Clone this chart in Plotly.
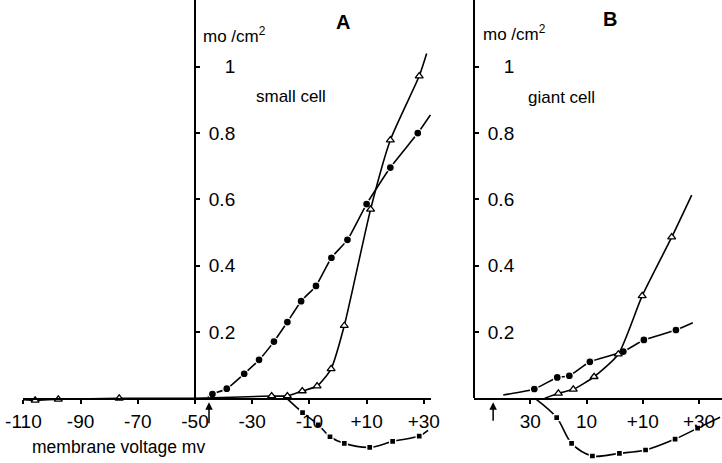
import plotly.graph_objects as go

# ---------------- data ----------------
# Panel A - small cell (membrane voltage mV, conductance mho/cm2)
A_circ_v = [-43.9, -38.9, -32.8, -27.6, -22.4, -17.7, -12.9, -7.7, -2.3, 3.3, 10.0, 18.3, 27.9]
A_circ_g = [0.013, 0.029, 0.074, 0.116, 0.171, 0.230, 0.293, 0.339, 0.424, 0.478, 0.586, 0.696, 0.800]
A_circ_line_v = [-45.5, -43.9, -38.9, -32.8, -27.6, -22.4, -17.7, -12.9, -7.7, -2.3, 3.3, 10.0, 18.3, 27.9, 32.3]
A_circ_line_g = [0.005, 0.013, 0.029, 0.074, 0.116, 0.171, 0.230, 0.293, 0.339, 0.424, 0.478, 0.586, 0.696, 0.800, 0.855]

A_tri_v = [-105.9, -97.8, -76.5, -23.2, -17.7, -12.5, -7.3, -2.4, 2.2, 11.4, 18.3, 28.4]
A_tri_g = [-0.006, -0.003, 0.0, 0.007, 0.007, 0.022, 0.037, 0.089, 0.219, 0.570, 0.779, 0.972]
A_tri_line_v = [-110.0, -105.9, -97.8, -76.5, -50.0, -23.2, -17.7, -12.5, -7.3, -2.4, 2.2, 11.4, 18.3, 28.4, 31.0]
A_tri_line_g = [-0.004, -0.006, -0.003, 0.0, 0.0, 0.007, 0.007, 0.022, 0.037, 0.089, 0.219, 0.570, 0.779, 0.972, 1.040]

A_sq_v = [-12.4, -6.9, -2.8, 2.2, 11.1, 19.1, 28.4]
A_sq_g = [-0.043, -0.080, -0.116, -0.136, -0.148, -0.130, -0.114]
A_sq_line_v = [-17.9, -12.4, -6.9, -2.8, 2.2, 11.1, 19.1, 28.4, 31.5]
A_sq_line_g = [0.0, -0.043, -0.080, -0.116, -0.136, -0.148, -0.130, -0.114, -0.097]

# Panel B - giant cell
B_circ_v = [-28.55, -20.4, -16.1, -8.8, 3.1, 10.4, 21.8]
B_circ_g = [0.028, 0.063, 0.068, 0.110, 0.141, 0.176, 0.206]
B_circ_line_v = [-39.6, -28.55, -20.4, -16.1, -8.8, 3.1, 10.4, 21.8, 27.8]
B_circ_line_g = [0.010, 0.028, 0.063, 0.068, 0.110, 0.141, 0.176, 0.206, 0.228]

B_tri_v = [-20.0, -14.7, -7.3, 1.3, 9.8, 20.3]
B_tri_g = [0.015, 0.027, 0.065, 0.133, 0.309, 0.486]
B_tri_line_v = [-24.8, -20.0, -14.7, -7.3, 1.3, 9.8, 20.3, 27.4]
B_tri_line_g = [0.0, 0.015, 0.027, 0.065, 0.133, 0.309, 0.486, 0.613]

B_sq_v = [-20.6, -15.3, -7.9, 1.7, 11.0, 21.5, 29.5]
B_sq_g = [-0.058, -0.136, -0.174, -0.166, -0.156, -0.123, -0.090]
B_sq_line_v = [-28.3, -20.6, -15.3, -7.9, 1.7, 11.0, 21.5, 29.5, 37.5]
B_sq_line_g = [0.0, -0.058, -0.136, -0.174, -0.166, -0.156, -0.123, -0.090, -0.057]

# axes / ticks
Y_TICKS = [0.2, 0.4, 0.6, 0.8, 1.0]
Y_TICKTEXT = ["0.2", "0.4", "0.6", "0.8", "\u2007\u20081"]
A_XTICKS = [-110, -90, -70, -50, -30, -10, 10, 30]
A_XTICKTEXT = ["-110", "-90", "-70", "-50", "-30", "-10", "+10", "+30"]
B_XTICKS = [-30, -10, 10, 30]
B_XTICKTEXT = ["30", "10", "+10", "+30"]
A_ARROW_V = -45.1
B_ARROW_V = -43.2

# ---------------- layout geometry (pixels) ----------------
W, H = 722, 463
BASE_PX = 398.3          # y = 0 line
Y_SCALE = 331.5          # px per unit conductance
Y_MIN = (BASE_PX - H) / Y_SCALE
Y_MAX = BASE_PX / Y_SCALE
A_L, A_R, A_AX, A_S = 23, 431, 195, 2.86     # panel A x geometry
B_L, B_R, B_S = 474, 722, 2.8125              # panel B x geometry
A_RANGE = [-50 - (A_AX - A_L) / A_S, -50 + (A_R - A_AX) / A_S]
B_RANGE = [-50, -50 + (B_R - B_L) / B_S]
YDOM = (H - BASE_PX) / H

FONT = "Liberation Sans, Arial, sans-serif"
BLACK = "#000000"

fig = go.Figure()


def add_series(xa, ya, lv, lg, mv, mg, symbol, size, fill, outline, smooth):
    fig.add_trace(go.Scatter(x=lv, y=lg, mode="lines", xaxis=xa, yaxis=ya,
                             line=dict(color=BLACK, width=1.6, shape="spline", smoothing=smooth),
                             showlegend=False, hoverinfo="skip"))
    fig.add_trace(go.Scatter(x=mv, y=mg, mode="markers", xaxis=xa, yaxis=ya, cliponaxis=False,
                             marker=dict(symbol=symbol, size=size, color=fill,
                                         line=dict(color=outline, width=1.3)),
                             showlegend=False, hoverinfo="skip"))


# Panel A
add_series("x", "y", A_circ_line_v, A_circ_line_g, A_circ_v, A_circ_g, "circle", 8, BLACK, "white", 0.5)
add_series("x", "y", A_tri_line_v, A_tri_line_g, A_tri_v, A_tri_g, "triangle-up", 7, "white", BLACK, 0.6)
add_series("x", "y", A_sq_line_v, A_sq_line_g, A_sq_v, A_sq_g, "square", 6, BLACK, "white", 0.9)
# Panel B
add_series("x2", "y3", B_circ_line_v, B_circ_line_g, B_circ_v, B_circ_g, "circle", 8, BLACK, "white", 0.5)
add_series("x2", "y3", B_tri_line_v, B_tri_line_g, B_tri_v, B_tri_g, "triangle-up", 7, "white", BLACK, 0.6)
add_series("x2", "y3", B_sq_line_v, B_sq_line_g, B_sq_v, B_sq_g, "square", 6, BLACK, "white", 0.9)

# empty traces so the visible axes form subplots
fig.add_trace(go.Scatter(x=[], y=[], xaxis="x", yaxis="y2", showlegend=False, hoverinfo="skip"))
fig.add_trace(go.Scatter(x=[], y=[], xaxis="x2", yaxis="y4", showlegend=False, hoverinfo="skip"))

tickfont = dict(family=FONT, size=19, color=BLACK)
common_x = dict(showline=True, linecolor=BLACK, linewidth=2, showgrid=False, zeroline=False,
                ticks="outside", ticklen=4, tickwidth=1.5, tickcolor=BLACK, tickfont=tickfont,
                tickmode="array", fixedrange=True, automargin=False, ticklabelstandoff=1)
common_yvis = dict(showline=True, linecolor=BLACK, linewidth=2, showgrid=False, zeroline=False,
                   side="right", anchor="free",
                   ticks="outside", ticklen=4, tickwidth=1.5, tickcolor=BLACK, tickfont=tickfont,
                   tickmode="array", tickvals=Y_TICKS, ticklabelstandoff=5,
                   ticktext=Y_TICKTEXT, range=[0, Y_MAX], domain=[YDOM, 1], fixedrange=True,
                   automargin=False)
hidden_y = dict(visible=False, range=[Y_MIN, Y_MAX], domain=[0, 1], fixedrange=True,
                automargin=False)

fig.update_layout(
    width=W, height=H, autosize=False,
    margin=dict(l=0, r=0, t=0, b=0, pad=0, autoexpand=False),
    paper_bgcolor="white", plot_bgcolor="rgba(0,0,0,0)",
    font=dict(family=FONT, color=BLACK),
    xaxis=dict(domain=[A_L / W, A_R / W], range=A_RANGE, anchor="y2",
               tickvals=A_XTICKS, ticktext=A_XTICKTEXT, **common_x),
    yaxis=dict(anchor="x", **hidden_y),
    yaxis2=dict(position=A_AX / W, **common_yvis),
    xaxis2=dict(domain=[B_L / W, B_R / W], range=B_RANGE, anchor="y4",
                tickvals=B_XTICKS, ticktext=B_XTICKTEXT, **common_x),
    yaxis3=dict(anchor="x2", **hidden_y),
    yaxis4=dict(position=B_L / W, **common_yvis),
)


def ptext(text, x, y, size, xanchor="left", bold=False):
    fig.add_annotation(text=f"<b>{text}</b>" if bold else text, x=x / W, y=1 - y / H,
                       xref="paper", yref="paper", xanchor=xanchor, yanchor="middle",
                       showarrow=False, font=dict(family=FONT, size=size, color=BLACK))


ptext("A", 343, 22, 20, "center", bold=True)
ptext("B", 610, 19, 20, "center", bold=True)
ptext("mo /cm<sup>2</sup>", 201, 35, 17)
ptext("mo /cm<sup>2</sup>", 481, 33, 17)
ptext("small cell", 254, 96, 17)
ptext("giant cell", 526, 97, 17)
ptext("membrane voltage mv", 30, 447, 17.5)

# voltage arrows
fig.add_annotation(x=A_ARROW_V, y=-0.012, ax=A_ARROW_V, ay=-0.08, xref="x", yref="y",
                   axref="x", ayref="y", text="", showarrow=True, arrowhead=2,
                   arrowsize=1, arrowwidth=1.5, arrowcolor=BLACK)
fig.add_annotation(x=B_ARROW_V, y=-0.012, ax=B_ARROW_V, ay=-0.072, xref="x2", yref="y3",
                   axref="x2", ayref="y3", text="", showarrow=True, arrowhead=2,
                   arrowsize=1, arrowwidth=1.5, arrowcolor=BLACK)

fig.write_html("out.html")
